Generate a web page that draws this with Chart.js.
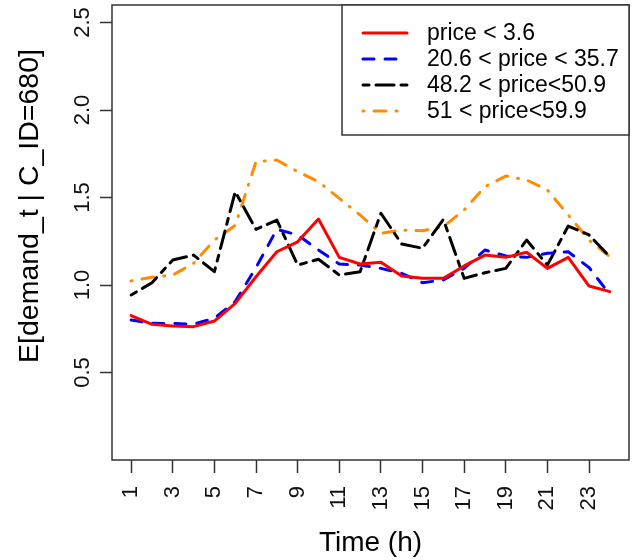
<!DOCTYPE html>
<html><head><meta charset="utf-8">
<script src="https://cdn.jsdelivr.net/npm/chart.js@4/dist/chart.umd.min.js"></script>
<style>html,body{margin:0;padding:0;background:#fff}canvas{display:block}</style>
</head><body>
<canvas id="c" width="634" height="560" style="width:634px;height:560px"></canvas>
<script>
const hours = [1,2,3,4,5,6,7,8,9,10,11,12,13,14,15,16,17,18,19,20,21,22,23,24];
const seriesLabels = ["price < 3.6", "20.6 < price < 35.7", "48.2 < price<50.9", "51 < price<59.9"];
const priceLow   = [0.825,0.775,0.766,0.762,0.794,0.895,1.047,1.19,1.247,1.377,1.158,1.12,1.13,1.051,1.038,1.038,1.109,1.171,1.158,1.187,1.095,1.158,0.994,0.962];
const priceMid   = [0.80,0.781,0.78,0.776,0.81,0.905,1.10,1.318,1.286,1.20,1.12,1.114,1.095,1.067,1.013,1.029,1.095,1.20,1.166,1.158,1.181,1.19,1.10,0.945];
const priceHigh  = [0.943,1.013,1.143,1.171,1.076,1.533,1.318,1.371,1.114,1.147,1.057,1.076,1.41,1.234,1.21,1.375,1.038,1.07,1.095,1.257,1.114,1.337,1.286,1.162];
const priceTop   = [1.023,1.044,1.057,1.124,1.257,1.34,1.705,1.714,1.648,1.59,1.495,1.40,1.295,1.314,1.310,1.333,1.429,1.562,1.623,1.60,1.543,1.40,1.257,1.162];
const xTickValues = [1,3,5,7,9,11,13,15,17,19,21,23];
const yTickValues = [0.5,1.0,1.5,2.0,2.5];
const yTickLabels = ["0.5","1.0","1.5","2.0","2.5"];
const xTitle = "Time (h)";
const yTitle = "E[demand_t | C_ID=680]";

const FONT = '"Liberation Sans", Arial, sans-serif';
const styles = [
  {color:'#FF0000', dash:[]},
  {color:'#0000FF', dash:[11,11]},
  {color:'#000000', dash:[6,7,18,7]},
  {color:'#FF8C00', dash:[1,10,12,10]}
];
const seriesValues = [priceLow, priceMid, priceHigh, priceTop];

const datasets = seriesValues.map((vals, i) => ({
  label: seriesLabels[i],
  data: hours.map((h, j) => ({x: h, y: vals[j]})),
  borderColor: styles[i].color,
  borderDash: styles[i].dash,
  borderWidth: 3,
  borderCapStyle: 'round',
  borderJoinStyle: 'round',
  pointRadius: 0,
  tension: 0,
  fill: false
}));

const decorPlugin = {
  id: 'decor',
  afterDraw(chart) {
    const ctx = chart.ctx, a = chart.chartArea;
    const ys = chart.scales.y;
    ctx.save();
    // plot box
    ctx.strokeStyle = '#333';
    ctx.lineWidth = 1.5;
    ctx.strokeRect(a.left, a.top, a.right - a.left, a.bottom - a.top);
    // y tick labels (rotated, parallel to axis)
    ctx.fillStyle = '#111';
    ctx.font = '22px ' + FONT;
    ctx.textAlign = 'center';
    ctx.textBaseline = 'alphabetic';
    yTickValues.forEach((v, i) => {
      const py = ys.getPixelForValue(v);
      ctx.save();
      ctx.translate(89, py);
      ctx.rotate(-Math.PI / 2);
      ctx.fillText(yTickLabels[i], 0, 0);
      ctx.restore();
    });
    // axis titles
    ctx.font = '28.5px ' + FONT;
    ctx.fillStyle = '#000';
    ctx.save();
    ctx.translate(38, 206);
    ctx.rotate(-Math.PI / 2);
    ctx.textAlign = 'center';
    ctx.fillText(yTitle, 0, 0);
    ctx.restore();
    ctx.font = '28px ' + FONT;
    ctx.textAlign = 'center';
    ctx.fillText(xTitle, (a.left + a.right) / 2, 551);
    // legend
    const lw = 287, lh = 130;
    const lx = a.right - lw, ly = a.top;
    ctx.fillStyle = '#fff';
    ctx.fillRect(lx, ly, lw, lh);
    ctx.strokeStyle = '#333';
    ctx.lineWidth = 1.5;
    ctx.strokeRect(lx, ly, lw, lh);
    ctx.font = '23px ' + FONT;
    ctx.textAlign = 'left';
    ctx.textBaseline = 'middle';
    chart.data.datasets.forEach((ds, i) => {
      const ry = ly + 28 + i * 26;
      ctx.save();
      ctx.strokeStyle = ds.borderColor;
      ctx.lineWidth = 3;
      ctx.lineCap = 'round';
      ctx.setLineDash(ds.borderDash);
      ctx.beginPath();
      ctx.moveTo(lx + 21, ry);
      ctx.lineTo(lx + 65, ry);
      ctx.stroke();
      ctx.restore();
      ctx.fillStyle = '#000';
      ctx.fillText(ds.label, lx + 85, ry + 1);
    });
    ctx.restore();
  }
};

new Chart(document.getElementById('c'), {
  type: 'line',
  data: { datasets },
  options: {
    responsive: false,
    devicePixelRatio: 1,
    animation: false,
    layout: { padding: { top: 5, right: 5, left: 0, bottom: 0 } },
    plugins: { legend: { display: false }, tooltip: { enabled: false } },
    scales: {
      x: {
        type: 'linear',
        min: 0.08, max: 24.92,
        afterBuildTicks: s => { s.ticks = xTickValues.map(v => ({value: v})); },
        afterFit: s => { s.height = 100; },
        grid: { drawOnChartArea: false, drawTicks: true, tickLength: 13, tickColor: '#333', tickWidth: 1.5 },
        border: { display: false },
        ticks: { autoSkip: false, minRotation: 90, maxRotation: 90, padding: 13, color: '#111',
                 font: { family: FONT, size: 22 }, callback: v => String(v) }
      },
      y: {
        type: 'linear',
        min: 0, max: 2.6,
        afterBuildTicks: s => { s.ticks = yTickValues.map(v => ({value: v})); },
        afterFit: s => { s.width = 112; },
        grid: { drawOnChartArea: false, drawTicks: true, tickLength: 12, tickColor: '#333', tickWidth: 1.5 },
        border: { display: false },
        ticks: { display: false }
      }
    }
  },
  plugins: [decorPlugin]
});
</script>
</body></html>
